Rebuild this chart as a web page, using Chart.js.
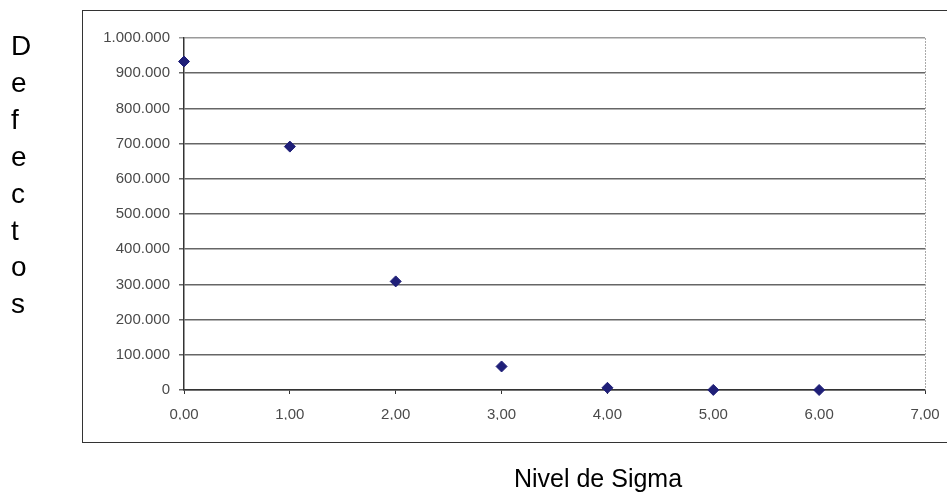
<!DOCTYPE html>
<html>
<head>
<meta charset="utf-8">
<script src="https://cdn.jsdelivr.net/npm/chart.js@4.4.1/dist/chart.umd.min.js"></script>
<style>
html,body{margin:0;padding:0;background:#fff;}
#wrap{position:relative;width:947px;height:504px;}
canvas{display:block;}
</style>
</head>
<body>
<div id="wrap"><canvas id="c" width="947" height="504"></canvas></div>
<script>
const sigmaLevels = [0, 1, 2, 3, 4, 5, 6];
const defects = [933193, 691462, 308538, 66807, 6210, 233, 3.4];
const yTitle = "Defectos";
const xTitle = "Nivel de Sigma";

function fmtThousands(v){
  return String(Math.round(v)).replace(/\B(?=(\d{3})+(?!\d))/g, ".");
}
function fmtDec(v){
  return Number(v).toFixed(2).replace(".", ",");
}

const decor = {
  id: "decor",
  beforeDraw(chart){
    const ctx = chart.ctx;
    ctx.save();
    ctx.fillStyle = "#fff";
    ctx.fillRect(0,0,chart.width,chart.height);
    ctx.strokeStyle = "#333";
    ctx.lineWidth = 1;
    ctx.strokeRect(82.5, 10.5, 900, 432);
    ctx.restore();
  },
  afterDatasetsDraw(chart){
    const ctx = chart.ctx;
    const a = chart.chartArea;
    ctx.save();
    ctx.strokeStyle = "#aaa";
    ctx.setLineDash([2,1]);
    ctx.lineWidth = 1;
    ctx.beginPath();
    ctx.moveTo(Math.round(a.right)+0.5, a.top);
    ctx.lineTo(Math.round(a.right)+0.5, a.bottom);
    ctx.stroke();
    ctx.restore();
  },
  afterDraw(chart){
    const ctx = chart.ctx;
    ctx.save();
    ctx.fillStyle = "#000";
    ctx.font = "28px 'Liberation Sans', Arial, sans-serif";
    ctx.textAlign = "left";
    ctx.textBaseline = "alphabetic";
    yTitle.split("").forEach((ch, i) => ctx.fillText(ch, 11, 55 + i * 36.9));
    ctx.font = "25px 'Liberation Sans', Arial, sans-serif";
    ctx.textAlign = "center";
    ctx.fillText(xTitle, 598, 487);
    ctx.restore();
  }
};

new Chart(document.getElementById("c"), {
  type: "scatter",
  data: {
    datasets: [{
      data: sigmaLevels.map((x, i) => ({x: x, y: defects[i]})),
      pointStyle: "rectRot",
      pointRadius: 5.5,
      pointHoverRadius: 5.5,
      backgroundColor: "#1f1f78",
      borderColor: "#1f1f78",
      borderWidth: 1,
      clip: false
    }]
  },
  options: {
    responsive: false,
    animation: false,
    events: [],
    layout: { padding: { left: 90, right: 22, top: 38, bottom: 84 } },
    plugins: { legend: { display: false }, tooltip: { enabled: false } },
    scales: {
      x: {
        type: "linear",
        min: 0, max: 7,
        afterFit(s){ s.height = 30; s.paddingLeft = 0; s.paddingRight = 0; },
        ticks: {
          stepSize: 1,
          callback: v => fmtDec(v),
          color: "#4a4a4a",
          font: { family: "'Liberation Sans', Arial, sans-serif", size: 15 },
          padding: 12,
          maxRotation: 0
        },
        grid: { drawOnChartArea: false, drawTicks: true, tickLength: 4, color: "#333" },
        border: { display: true, color: "#333", width: 1.5 }
      },
      y: {
        min: 0, max: 1000000,
        afterFit(s){ s.width = 94; s.paddingTop = 0; s.paddingBottom = 0; },
        ticks: {
          stepSize: 100000,
          callback: v => fmtThousands(v),
          color: "#4a4a4a",
          font: { family: "'Liberation Sans', Arial, sans-serif", size: 15 },
          padding: 9
        },
        grid: {
          drawOnChartArea: true,
          drawTicks: true,
          tickLength: 5,
          color: ctx => (ctx.tick && ctx.tick.value === 1000000) ? "#9a9a9a" : "#666",
          lineWidth: 1.5
        },
        border: { display: true, color: "#333", width: 1.5 }
      }
    }
  },
  plugins: [decor]
});
</script>
</body>
</html>
